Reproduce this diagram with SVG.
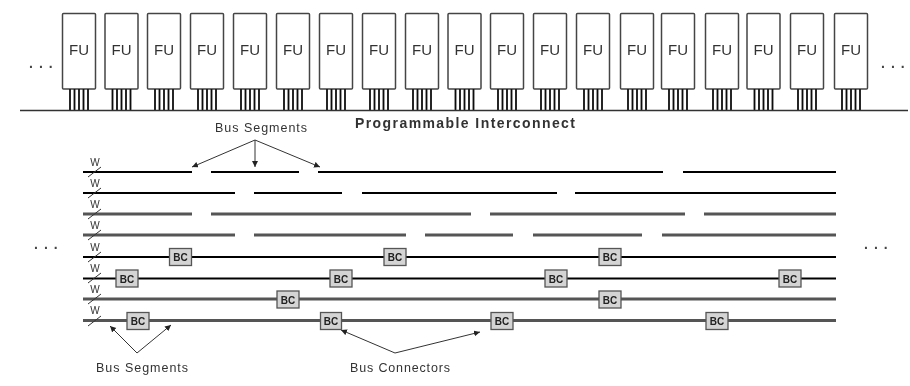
<svg xmlns="http://www.w3.org/2000/svg" xmlns:xlink="http://www.w3.org/1999/xlink" width="910" height="386" viewBox="0 0 910 386">
<style>
text{font-family:"Liberation Sans",Arial,sans-serif;fill:#333}
.fu{fill:#fff;stroke:#444;stroke-width:1.5}
.fut{font-size:15px;text-anchor:middle;fill:#333}
.lab{font-size:12.500px;fill:#333;text-anchor:middle}
.w{font-size:10px;fill:#333;text-anchor:middle}
.seg{stroke:#000;stroke-width:2;fill:none}
.seg2{stroke:#555;stroke-width:3;fill:none}
.ln{stroke:#333;stroke-width:1;fill:none}
.pin{stroke:#111;stroke-width:1.8}
.bc{fill:#d4d4d4;stroke:#555;stroke-width:1.3}
.bct{font-size:10px;font-weight:bold;text-anchor:middle;fill:#222}
.dots{font-size:14px;font-weight:bold;letter-spacing:6px;fill:#444}
</style>
<defs>
<marker id="a" markerWidth="7" markerHeight="7" refX="6" refY="3" orient="auto" markerUnits="userSpaceOnUse"><path d="M0 0L6 3L0 6z" fill="#222"/></marker>
<g id="fu"><rect class="fu" x="0.500" y="13.500" width="33" height="75.500" rx="1"/><text class="fut" x="17" y="55">FU</text><path class="pin" d="M8 89V110M12.500 89V110M17 89V110M21.500 89V110M26 89V110"/></g>
<filter id="b" x="-5%" y="-5%" width="110%" height="110%"><feGaussianBlur stdDeviation="0.6"/></filter>
</defs>
<g filter="url(#b)">
<g id="fu-row">
<g id="fu1"><use xlink:href="#fu" x="62"/></g><g id="fu2"><use xlink:href="#fu" x="104.500"/></g><g id="fu3"><use xlink:href="#fu" x="147"/></g><g id="fu4"><use xlink:href="#fu" x="190"/></g><g id="fu5"><use xlink:href="#fu" x="233"/></g><g id="fu6"><use xlink:href="#fu" x="276"/></g><g id="fu7"><use xlink:href="#fu" x="319"/></g><g id="fu8"><use xlink:href="#fu" x="362"/></g><g id="fu9"><use xlink:href="#fu" x="405"/></g><g id="fu10"><use xlink:href="#fu" x="447.500"/></g><g id="fu11"><use xlink:href="#fu" x="490"/></g><g id="fu12"><use xlink:href="#fu" x="533"/></g><g id="fu13"><use xlink:href="#fu" x="576"/></g><g id="fu14"><use xlink:href="#fu" x="620"/></g><g id="fu15"><use xlink:href="#fu" x="661"/></g><g id="fu16"><use xlink:href="#fu" x="705"/></g><g id="fu17"><use xlink:href="#fu" x="746.500"/></g><g id="fu18"><use xlink:href="#fu" x="790"/></g><g id="fu19"><use xlink:href="#fu" x="834"/></g>
</g>
<g id="connectors">
<path d="M20 110.500H908" stroke="#333" stroke-width="1.500" fill="none"/>
<path class="seg" d="M83 172H192M211 172H299M318 172H663M683 172H836M83 193H235M254 193H342M362 193H557M575 193H836M83 257H836M83 278.500H836"/>
<path class="seg2" d="M83 214H192M211 214H471M490 214H685M704 214H836M83 235H235M254 235H406M425 235H513M533 235H642M662 235H836M83 299H836M83 320.500H836"/>
<path class="ln" d="M88 177L101 167M88 198L101 188M88 219L101 209M88 240L101 230M88 262L101 252M88 283L101 273M88 304L101 294M88 326L101 316"/>
<path class="ln" marker-end="url(#a)" d="M255 140L192 167"/>
<path class="ln" marker-end="url(#a)" d="M255 140V167"/>
<path class="ln" marker-end="url(#a)" d="M255 140L320 167"/>
<path class="ln" marker-end="url(#a)" d="M137 353L110 326"/>
<path class="ln" marker-end="url(#a)" d="M137 353L171 325"/>
<path class="ln" marker-end="url(#a)" d="M395 353L341 330"/>
<path class="ln" marker-end="url(#a)" d="M395 353L480 332"/>
</g>
<g id="w-labels"><text class="w" x="95" y="166">W</text><text class="w" x="95" y="187">W</text><text class="w" x="95" y="208">W</text><text class="w" x="95" y="229">W</text><text class="w" x="95" y="251">W</text><text class="w" x="95" y="272">W</text><text class="w" x="95" y="293">W</text><text class="w" x="95" y="314">W</text></g>
<g id="bc-nodes">
<g id="bc1"><rect class="bc" x="169.500" y="248.500" width="22" height="17"/><text class="bct" x="180.500" y="261">BC</text></g>
<g id="bc2"><rect class="bc" x="384" y="248.500" width="22" height="17"/><text class="bct" x="395" y="261">BC</text></g>
<g id="bc3"><rect class="bc" x="599" y="248.500" width="22" height="17"/><text class="bct" x="610" y="261">BC</text></g>
<g id="bc4"><rect class="bc" x="116" y="270" width="22" height="17"/><text class="bct" x="127" y="282.500">BC</text></g>
<g id="bc5"><rect class="bc" x="330" y="270" width="22" height="17"/><text class="bct" x="341" y="282.500">BC</text></g>
<g id="bc6"><rect class="bc" x="545" y="270" width="22" height="17"/><text class="bct" x="556" y="282.500">BC</text></g>
<g id="bc7"><rect class="bc" x="779" y="270" width="22" height="17"/><text class="bct" x="790" y="282.500">BC</text></g>
<g id="bc8"><rect class="bc" x="277" y="291" width="22" height="17"/><text class="bct" x="288" y="303.500">BC</text></g>
<g id="bc9"><rect class="bc" x="599" y="291" width="22" height="17"/><text class="bct" x="610" y="303.500">BC</text></g>
<g id="bc10"><rect class="bc" x="127" y="312.500" width="22" height="17"/><text class="bct" x="138" y="325">BC</text></g>
<g id="bc11"><rect class="bc" x="320.500" y="312.500" width="21" height="17"/><text class="bct" x="331" y="325">BC</text></g>
<g id="bc12"><rect class="bc" x="491" y="312.500" width="22" height="17"/><text class="bct" x="502" y="325">BC</text></g>
<g id="bc13"><rect class="bc" x="706" y="312.500" width="22" height="17"/><text class="bct" x="717" y="325">BC</text></g>
</g>
<g id="labels">
<text class="lab" x="261" y="132" textLength="92" lengthAdjust="spacing">Bus Segments</text>
<text x="465" y="128" textLength="220" lengthAdjust="spacing" style="font-size:14px;font-weight:bold;text-anchor:middle;fill:#333">Programmable Interconnect</text>
<text class="lab" x="142" y="372" textLength="92" lengthAdjust="spacing">Bus Segments</text>
<text class="lab" x="400" y="372" textLength="100" lengthAdjust="spacing">Bus Connectors</text>
<text class="dots" x="29" y="68">...</text>
<text class="dots" x="881" y="68">...</text>
<text class="dots" x="34" y="249">...</text>
<text class="dots" x="864" y="249">...</text>
</g>
</g>
</svg>
